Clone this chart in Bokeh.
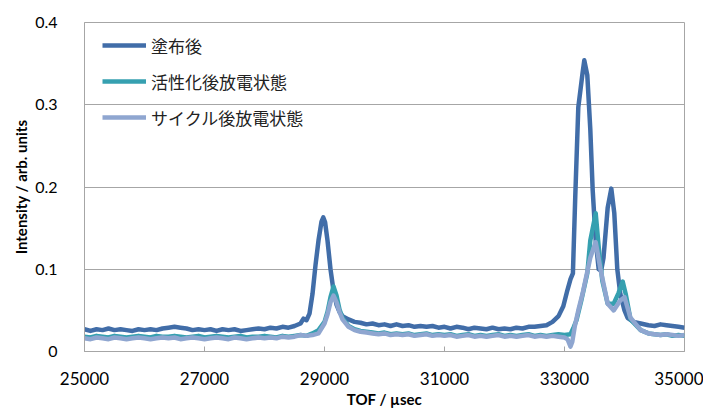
from bokeh.plotting import figure
from bokeh.models import Range1d, FixedTicker, CustomJSTickFormatter, Legend, LegendItem
from bokeh.embed import file_html
from bokeh.resources import INLINE

# ---- data ----
labels = ["塗布後", "活性化後放電状態", "サイクル後放電状態"]
colors = ["#416DA8", "#36A0B0", "#8FA6D0"]
x_ticks = [25000, 27000, 29000, 31000, 33000, 35000]
y_ticks = [0, 0.1, 0.2, 0.3, 0.4]

tof1 = [
    25000, 25100, 25200, 25300, 25400, 25500, 25600, 25700, 25800, 25900,
    26000, 26100, 26200, 26300, 26400, 26500, 26600, 26700, 26800, 26900,
    27000, 27100, 27200, 27300, 27400, 27500, 27600, 27700, 27800, 27900,
    28000, 28100, 28200, 28300, 28400, 28500, 28600, 28650, 28700, 28750,
    28800, 28850, 28900, 28950, 28980, 29010, 29050, 29100, 29150, 29200,
    29250, 29300, 29400, 29500, 29600, 29700, 29800, 29900, 30000, 30100,
    30200, 30300, 30400, 30500, 30600, 30700, 30800, 30900, 31000, 31100,
    31200, 31300, 31400, 31500, 31600, 31700, 31800, 31900, 32000, 32100,
    32200, 32300, 32400, 32500, 32600, 32700, 32800, 32900, 32980, 33050,
    33100, 33140, 33180, 33230, 33300, 33330, 33380, 33430, 33470, 33520,
    33570, 33610, 33650, 33720, 33780, 33830, 33880, 33930, 34000, 34050,
    34150, 34270, 34400, 34500, 34600, 34700, 34800, 34900, 35000]
int1 = [
    0.027, 0.025, 0.027, 0.026, 0.028, 0.026, 0.027, 0.026, 0.025, 0.027,
    0.026, 0.027, 0.026, 0.028, 0.029, 0.030, 0.029, 0.028, 0.026, 0.027,
    0.026, 0.027, 0.025, 0.027, 0.026, 0.027, 0.025, 0.026, 0.027, 0.028,
    0.027, 0.029, 0.028, 0.030, 0.029, 0.031, 0.034, 0.040, 0.038, 0.046,
    0.070, 0.105, 0.135, 0.158, 0.163, 0.157, 0.135, 0.100, 0.074, 0.057,
    0.048, 0.043, 0.039, 0.036, 0.035, 0.033, 0.034, 0.032, 0.033, 0.031,
    0.033, 0.031, 0.032, 0.030, 0.031, 0.030, 0.031, 0.029, 0.030, 0.028,
    0.030, 0.029, 0.027, 0.029, 0.028, 0.027, 0.029, 0.027, 0.028, 0.027,
    0.029, 0.028, 0.030, 0.030, 0.031, 0.032, 0.036, 0.043, 0.055, 0.075,
    0.088, 0.095, 0.190, 0.297, 0.338, 0.354, 0.336, 0.270, 0.196, 0.135,
    0.100, 0.098, 0.114, 0.175, 0.198, 0.168, 0.100, 0.070, 0.050, 0.041,
    0.036, 0.034, 0.032, 0.031, 0.033, 0.032, 0.031, 0.030, 0.029]

tof2 = (list(range(25000, 28800, 100))
        + [28800, 28900, 29000, 29050, 29100, 29150, 29200, 29250, 29300, 29400, 29500, 29600]
        + list(range(29700, 33200, 100))
        + [33150, 33200, 33280, 33380, 33430, 33520, 33570, 33630, 33720, 33820,
           33900, 33970, 34020, 34100, 34270, 34400, 34500, 34600, 34700, 34800, 34900, 35000])
int2 = [
    0.018, 0.017, 0.019, 0.018, 0.017, 0.019, 0.018, 0.017, 0.018, 0.019,
    0.018, 0.017, 0.019, 0.018, 0.018, 0.019, 0.018, 0.017, 0.018, 0.019,
    0.017, 0.018, 0.019, 0.018, 0.017, 0.018, 0.019, 0.017, 0.018, 0.018,
    0.019, 0.018, 0.017, 0.019, 0.018, 0.019, 0.020, 0.019,
    0.022, 0.026, 0.036, 0.048, 0.066, 0.079, 0.068, 0.051, 0.041, 0.031, 0.027, 0.025,
    0.024, 0.023, 0.022, 0.023, 0.021, 0.022, 0.021, 0.022, 0.020, 0.021,
    0.022, 0.020, 0.021, 0.020, 0.021, 0.019, 0.020, 0.021, 0.019, 0.020,
    0.019, 0.020, 0.021, 0.019, 0.020, 0.019, 0.020, 0.021, 0.019, 0.020,
    0.019, 0.020, 0.021, 0.020, 0.021,
    0.029, 0.038, 0.062, 0.095, 0.135, 0.168, 0.127, 0.086, 0.058, 0.058,
    0.071, 0.085, 0.070, 0.039, 0.026, 0.022, 0.021, 0.020, 0.021, 0.019, 0.020, 0.019]

tof3 = (list(range(25000, 28800, 100))
        + [28800, 28900, 29000, 29050, 29100, 29150, 29200, 29250, 29300, 29400, 29500, 29600]
        + list(range(29700, 33100, 100))
        + [33050, 33100, 33130, 33170, 33230, 33300, 33430, 33520, 33600, 33720,
           33820, 33930, 34000, 34100, 34270, 34400, 34500, 34600, 34700, 34800, 34900, 35000])
int3 = [
    0.016, 0.015, 0.017, 0.016, 0.015, 0.017, 0.016, 0.015, 0.016, 0.017,
    0.016, 0.015, 0.016, 0.017, 0.016, 0.017, 0.015, 0.016, 0.017, 0.016,
    0.015, 0.016, 0.017, 0.016, 0.015, 0.017, 0.016, 0.015, 0.016, 0.017,
    0.016, 0.017, 0.016, 0.018, 0.017, 0.018, 0.020, 0.019,
    0.020, 0.022, 0.034, 0.045, 0.060, 0.068, 0.060, 0.048, 0.039, 0.030, 0.026, 0.024,
    0.023, 0.022, 0.021, 0.022, 0.020, 0.021, 0.020, 0.021, 0.019, 0.020,
    0.021, 0.019, 0.020, 0.019, 0.020, 0.018, 0.019, 0.020, 0.018, 0.019,
    0.018, 0.019, 0.020, 0.018, 0.019, 0.018, 0.019, 0.020, 0.018, 0.019,
    0.018, 0.019, 0.018, 0.017,
    0.015, 0.006, 0.012, 0.030, 0.050, 0.070, 0.114, 0.133, 0.100, 0.058,
    0.050, 0.062, 0.066, 0.041, 0.026, 0.022, 0.021, 0.020, 0.021, 0.020, 0.019, 0.020]

series = [(tof1, int1), (tof2, int2), (tof3, int3)]

# ---- figure ----
p = figure(width=703, height=412, output_backend="svg", toolbar_location=None,
           x_range=Range1d(25000, 35000), y_range=Range1d(0, 0.4),
           min_border_left=84, min_border_right=19, min_border_top=22, min_border_bottom=61)
p.background_fill_color = "white"
p.border_fill_color = "white"
p.outline_line_color = "#A6A6A6"
p.outline_line_width = 1

renderers = []
for (xs, ys), c in zip(series, colors):
    r = p.line(xs, ys, line_color=c, line_width=4.5, line_join="round")
    renderers.append(r)

tick_font = "Lato"
p.xaxis.ticker = FixedTicker(ticks=x_ticks)
p.yaxis.ticker = FixedTicker(ticks=y_ticks)
p.yaxis.formatter = CustomJSTickFormatter(code="return tick == 0 ? '0' : tick.toFixed(1);")
p.xaxis.formatter = CustomJSTickFormatter(code="return tick.toFixed(0);")

for ax in (p.xaxis, p.yaxis):
    ax.axis_line_color = "#A6A6A6"
    ax.major_label_text_font = tick_font
    ax.major_label_text_color = "black"
    ax.axis_label_text_font = tick_font
    ax.axis_label_text_font_style = "bold"
    ax.axis_label_text_font_size = "15px"
    ax.axis_label_text_color = "black"
    ax.minor_tick_line_color = None

p.xaxis.major_label_text_font_size = "17px"
p.yaxis.major_label_text_font_size = "16px"

p.xaxis.major_tick_in = 5
p.xaxis.major_tick_out = 0
p.xaxis.major_tick_line_color = "#A6A6A6"
p.xaxis.major_label_standoff = 20
p.xaxis.axis_label = "TOF / µsec"
p.xaxis.axis_label_standoff = 2

p.yaxis.major_tick_line_color = None
p.yaxis.major_label_standoff = 21
p.yaxis.axis_label = "Intensity / arb. units"
p.yaxis.axis_label_standoff = 2

p.xgrid.grid_line_color = None
p.ygrid.grid_line_color = "#A6A6A6"
p.ygrid.grid_line_width = 1

legend = Legend(items=[LegendItem(label=l, renderers=[r]) for l, r in zip(labels, renderers)],
                location=(18, 219))
legend.glyph_width = 44
legend.glyph_height = 30
legend.label_height = 30
legend.spacing = 6
legend.padding = 0
legend.margin = 0
legend.label_standoff = 5
legend.border_line_alpha = 0
legend.background_fill_alpha = 0
legend.label_text_font = "Noto Sans CJK JP"
legend.label_text_font_size = "17px"
legend.label_text_color = "#222222"
p.add_layout(legend)

open("out.html", "w").write(file_html(p, INLINE))
